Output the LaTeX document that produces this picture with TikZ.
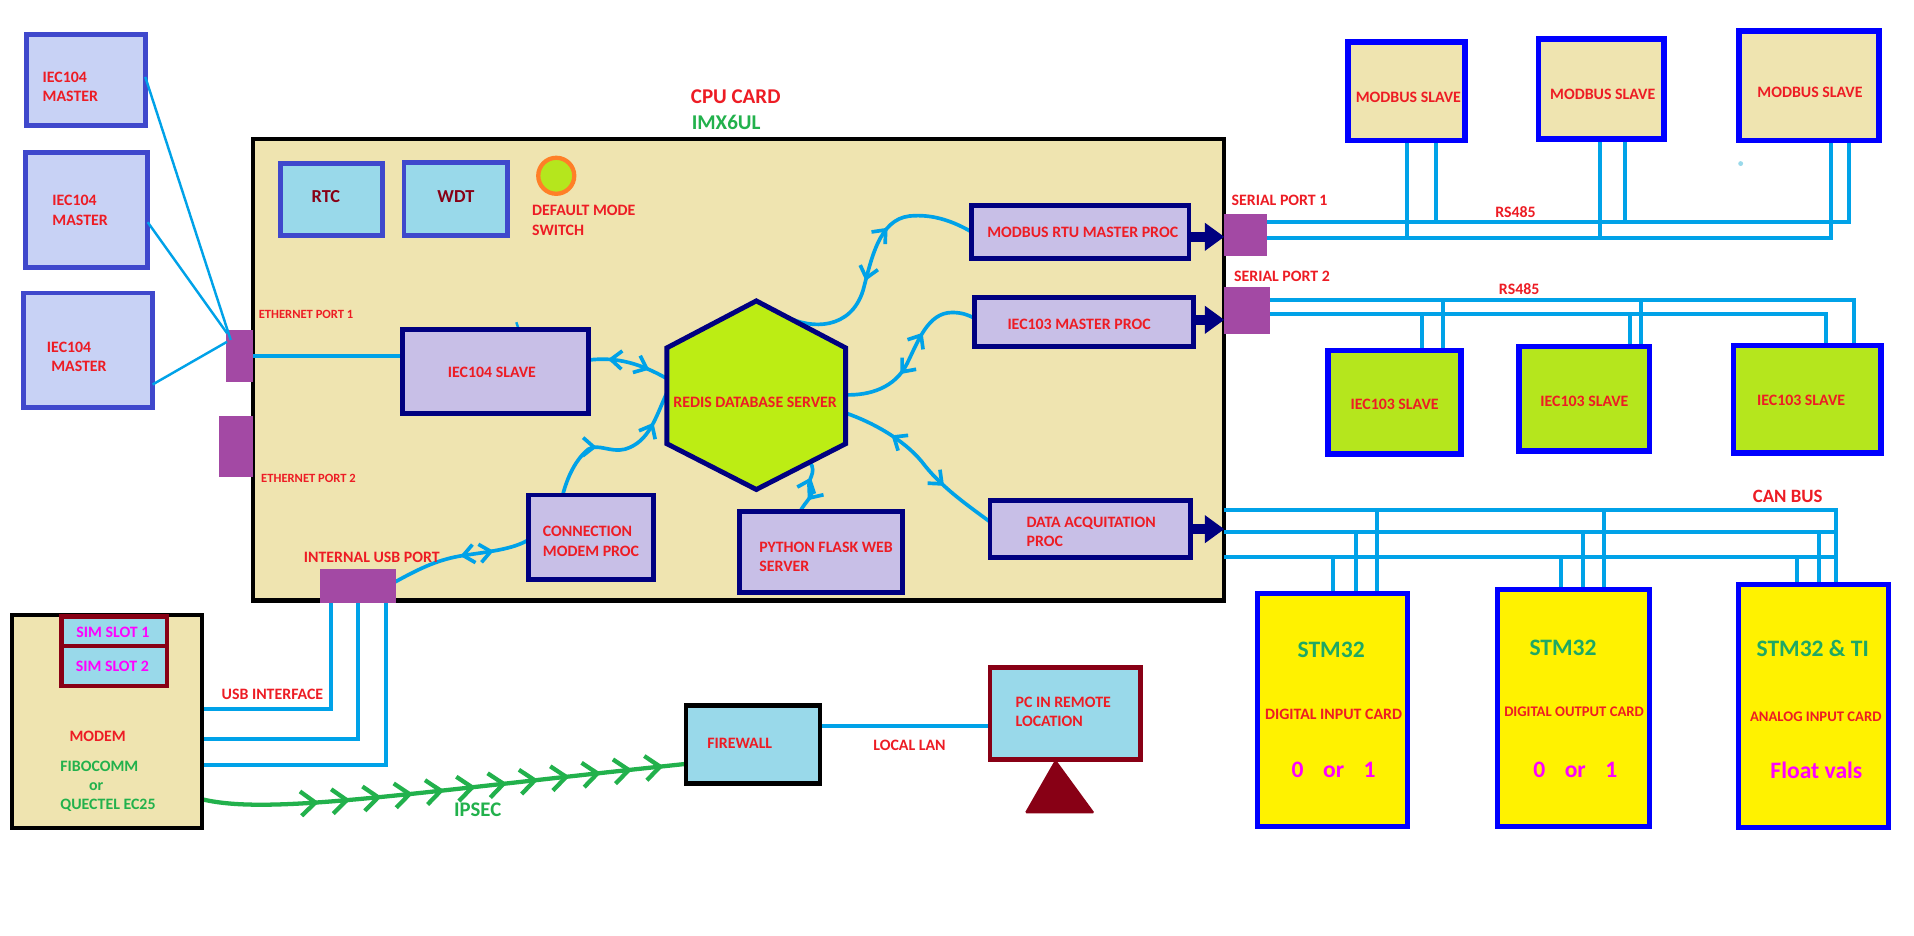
\documentclass[tikz,border=0pt]{standalone}
\usepackage{fontspec}
\setmainfont{Carlito}
\usetikzlibrary{arrows.meta,decorations.markings,fit,calc}
\pgfdeclarelayer{board}
\pgfdeclarelayer{wires}
\pgfsetlayers{board,wires,main}

% Paint-style palette
\definecolor{cardtan}{RGB}{239,228,176}
\definecolor{limefill}{RGB}{181,230,29}
\definecolor{hexfill}{RGB}{188,237,20}
\definecolor{skyfill}{RGB}{153,217,234}
\definecolor{lavfill}{RGB}{200,191,231}
\definecolor{perifill}{RGB}{200,210,245}
\definecolor{indigoline}{RGB}{63,72,204}
\definecolor{navyline}{RGB}{0,0,128}
\definecolor{wine}{RGB}{136,0,21}
\definecolor{labelred}{RGB}{237,28,36}
\definecolor{labelgreen}{RGB}{34,177,76}
\definecolor{stmgreen}{RGB}{30,168,100}
\definecolor{portpurple}{RGB}{163,73,164}
\definecolor{wireblue}{RGB}{0,162,232}
\definecolor{cardyellow}{RGB}{255,242,0}
\definecolor{switchorange}{RGB}{255,127,39}
\definecolor{slaveblue}{RGB}{0,0,255}
\definecolor{labelmagenta}{RGB}{255,0,255}

\newcommand\lblfont{\fontsize{13}{16}\selectfont\bfseries}

\tikzset{
  barbtip/.tip={Straight Barb[length=9pt,width=15pt]},
  ipbarb/.tip={Straight Barb[length=12pt,width=20pt]},
  boardbox/.style={draw=black,fill=cardtan,line width=3.5pt},
  masterbox/.style={draw=indigoline,fill=perifill,line width=4pt},
  chipbox/.style={draw=indigoline,fill=skyfill,line width=4pt},
  procbox/.style={draw=navyline,fill=lavfill,line width=4pt},
  portbox/.style={fill=portpurple},
  mbslavebox/.style={draw=slaveblue,fill=cardtan,line width=4.5pt},
  iecslavebox/.style={draw=slaveblue,fill=limefill,line width=4.5pt},
  iocardbox/.style={draw=slaveblue,fill=cardyellow,line width=4pt},
  modembox/.style={draw=black,fill=cardtan,line width=3.5pt},
  simbox/.style={draw=wine,fill=skyfill,line width=4pt},
  fwbox/.style={draw=black,fill=skyfill,line width=4pt},
  pcbox/.style={draw=wine,fill=skyfill,line width=4pt},
  wire/.style={draw=wireblue,line width=3.3pt},
  thinwire/.style={draw=wireblue,line width=2pt},
  bigarrow/.style={draw=navyline,line width=8pt,-{Triangle[length=16pt,width=22pt]}},
  bilink/.style 2 args={color=wireblue,line width=3pt,line cap=round,
    postaction={decorate,decoration={markings,
      mark=at position #1 with {\arrowreversed{barbtip}},
      mark=at position #2 with {\arrow{barbtip}}}}},
  tunnel/.style={color=labelgreen,line width=3.5pt,line cap=round,
    postaction={decorate,decoration={markings,
      mark=between positions 96pt and 380pt step 25.8pt with {\arrow{ipbarb}}}}},
  redtxt/.style={text=labelred,font=\lblfont,align=left},
  smalltxt/.style={text=labelred,font=\fontsize{10.3}{12}\selectfont\bfseries},
  chiptxt/.style={text=wine,font=\fontsize{15}{18}\selectfont\bfseries},
  titletxt/.style={font=\fontsize{17.2}{20}\selectfont\bfseries},
  greentxt/.style={text=labelgreen,font=\lblfont},
  simtxt/.style={text=labelmagenta,font=\lblfont},
  stmtxt/.style={text=stmgreen,font=\fontsize{19.3}{22}\selectfont\bfseries},
  valtxt/.style={text=labelmagenta,font=\fontsize{19.3}{22}\selectfont\bfseries},
}

\begin{document}
\begin{tikzpicture}[x=1pt,y=-1pt,every node/.style={inner sep=0pt,outer sep=0pt}]
\useasboundingbox (0,0) rectangle (1568,766);

% ---------- CPU card ----------
\begin{pgfonlayer}{board}
  \fill[white] (0,0) rectangle (1568,766);
  \node[boardbox,fit={(207,114) (1003,492)}] (cpu) {};
\end{pgfonlayer}
\node[titletxt,text=labelred,anchor=west] (cputitle) at (566,79) {CPU CARD};
\node[titletxt,text=labelgreen,anchor=west] (soc) at (566.7,100.5) {IMX6UL};

\node[chipbox,fit={(230,134) (313,193)}] (rtc) {};
\node[chiptxt] (rtct) at (267,161) {RTC};
\node[chipbox,fit={(331,133) (416,193)}] (wdt) {};
\node[chiptxt] (wdtt) at (373.5,161) {WDT};
\node[circle,draw=switchorange,fill=limefill,line width=3.5pt,minimum size=29.5pt] (modesw) at (455.7,144) {};
\node[redtxt,anchor=west] (modeswt) at (436,180.3) {DEFAULT MODE\\SWITCH};

\node[portbox,fit={(185,270) (207,313)}] (eth1) {};
\node[portbox,fit={(179,341) (207,391)}] (eth2) {};
\node[smalltxt,anchor=west] (eth1t) at (212,257.5) {ETHERNET PORT 1};
\node[smalltxt,anchor=west] (eth2t) at (214,392) {ETHERNET PORT 2};

\node[procbox,fit={(330,270) (482,339)}] (iecs) {};
\node[redtxt] (iecst) at (403,305) {IEC104 SLAVE};

% Redis hexagon
\draw[draw=navyline,fill=hexfill,line width=4pt,line join=miter]
  (619.6,246.5) coordinate (hT) -- (692.8,285) coordinate (hUR)
  -- (692.8,363.5) coordinate (hLR) -- (619.6,401) coordinate (hB)
  -- (546.3,363.5) coordinate (hLL) -- (546.3,285) coordinate (hUL) -- cycle;
\node[redtxt] (redis) at (618.6,329.6) {REDIS DATABASE SERVER};

\node[procbox,fit={(796,168) (974,212)}] (mrtu) {};
\node[redtxt] (mrtut) at (887,190.3) {MODBUS RTU MASTER PROC};
\node[procbox,fit={(798,243.5) (978,283.5)}] (imp) {};
\node[redtxt] (impt) at (884,265.4) {IEC103 MASTER PROC};
\node[procbox,fit={(811,410) (975.5,457)}] (daq) {};
\node[redtxt,anchor=west] (daqt) at (841,435.6) {DATA ACQUITATION\\PROC};
\node[procbox,fit={(606,419) (739,485.5)}] (py) {};
\node[redtxt,anchor=west] (pyt) at (622,456) {PYTHON FLASK WEB\\SERVER};
\node[procbox,fit={(432.7,405.5) (535.3,474.5)}] (conn) {};
\node[redtxt,anchor=west] (connt) at (444.8,443.3) {CONNECTION\\MODEM PROC};

\node[portbox,fit={(262,466.4) (324,493.7)}] (usbp) {};
\node[redtxt,anchor=west] (usbpt) at (249,456.6) {INTERNAL USB PORT};

\node[portbox,fit={(1003,175) (1038,210)}] (ser1) {};
\node[portbox,fit={(1003,235) (1040,274)}] (ser2) {};
\node[redtxt,anchor=west] (ser1t) at (1009,164) {SERIAL PORT 1};
\node[redtxt,anchor=west] (ser2t) at (1011,226) {SERIAL PORT 2};

% ---------- IEC104 masters ----------
\node[masterbox,fit={(22,28) (119,103)}] (m1) {};
\node[masterbox,fit={(21,125) (121,219)}] (m2) {};
\node[masterbox,fit={(19,240) (125,334)}] (m3) {};
\node[redtxt,anchor=west] (m1t) at (35,71) {IEC104\\MASTER};
\node[redtxt,anchor=west] (m2t) at (43,172.5) {IEC104\\MASTER};
\node[redtxt,anchor=west] (m3t) at (38.5,292.5) {IEC104\\\hspace*{3.5pt}MASTER};

% ---------- field devices ----------
\node[mbslavebox,fit={(1104.5,34.5) (1200,115)}] (s1) {};
\node[mbslavebox,fit={(1260.5,32) (1363,114)}] (s2) {};
\node[mbslavebox,fit={(1424.8,25.5) (1539.3,115.2)}] (s3) {};
\node[redtxt] (s1t) at (1153.8,80) {MODBUS SLAVE};
\node[redtxt] (s2t) at (1313,77) {MODBUS SLAVE};
\node[redtxt] (s3t) at (1482.8,76) {MODBUS SLAVE};
\fill[skyfill] (1426,134) circle (2pt);

\node[iecslavebox,fit={(1088,287) (1197,372)}] (t1) {};
\node[iecslavebox,fit={(1244.3,284) (1351.5,369.4)}] (t2) {};
\node[iecslavebox,fit={(1420,283) (1541,371)}] (t3) {};
\node[redtxt] (t1t) at (1142.5,331) {IEC103 SLAVE};
\node[redtxt] (t2t) at (1298,328.5) {IEC103 SLAVE};
\node[redtxt] (t3t) at (1475.5,327.7) {IEC103 SLAVE};
\node[redtxt,anchor=west] (rs1) at (1225,174) {RS485};
\node[redtxt,anchor=west] (rs2) at (1228,237) {RS485};

\node[iocardbox,fit={(1030,486) (1153,677)}] (k1) {};
\node[iocardbox,fit={(1227,483) (1351,677)}] (k2) {};
\node[iocardbox,fit={(1424,479) (1547,678)}] (k3) {};
\node[text=labelred,font=\fontsize{15.4}{18}\selectfont\bfseries,anchor=west] (canbus) at (1436,407) {CAN BUS};
\node[stmtxt] (k1a) at (1090.5,532) {STM32};
\node[redtxt] (k1b) at (1092.5,585) {DIGITAL INPUT CARD};
\node[valtxt] (k1c) at (1092.5,631) {0\hspace{16pt}or\hspace{16pt}1};
\node[stmtxt] (k2a) at (1280.5,531) {STM32};
\node[text=labelred,font=\fontsize{12}{14}\selectfont\bfseries] (k2b) at (1289.5,583) {DIGITAL OUTPUT CARD};
\node[valtxt] (k2c) at (1290.5,631) {0\hspace{16pt}or\hspace{16pt}1};
\node[stmtxt] (k3a) at (1485,531) {STM32 \& TI};
\node[text=labelred,font=\fontsize{12}{14}\selectfont\bfseries] (k3b) at (1487.5,587) {ANALOG INPUT CARD};
\node[valtxt] (k3c) at (1488,631) {Float vals};

% ---------- modem, firewall, remote PC ----------
\node[modembox,fit={(10,504) (165.5,678.5)}] (modem) {};
\node[simbox,fit={(50.5,505) (136.8,529.2)}] (sim1) {};
\node[simbox,fit={(50.5,529.2) (136.8,562)}] (sim2) {};
\node[simtxt] (sim1t) at (92.5,518) {SIM SLOT 1};
\node[simtxt] (sim2t) at (92,546) {SIM SLOT 2};
\node[redtxt,anchor=west] (modemt) at (57,603) {MODEM};
\node[greentxt,anchor=west] (vend1) at (49.5,628) {FIBOCOMM};
\node[greentxt,anchor=west] (vendor) at (73,644.5) {or};
\node[greentxt,anchor=west] (vend2) at (49.5,659.5) {QUECTEL EC25};
\node[redtxt,anchor=west] (usbift) at (181.6,568.5) {USB INTERFACE};

\node[fwbox,fit={(562,577.6) (671.8,642)}] (fw) {};
\node[redtxt] (fwt) at (606,609) {FIREWALL};
\node[pcbox,fit={(811,547) (934.3,622)}] (pc) {};
\node[redtxt,anchor=west] (pct) at (832,583.3) {PC IN REMOTE\\LOCATION};
\fill[wine,rounded corners=1.5pt] ([xshift=-8pt]pc.south) -- (839.3,666.3) -- (897,666.3) -- cycle;
\node[redtxt,anchor=west] (lant) at (715.5,611) {LOCAL LAN};
\node[text=labelgreen,font=\fontsize{17}{20}\selectfont\bfseries,anchor=west] (ipsect) at (372,663.6) {IPSEC};

% ---------- connectors ----------
\begin{pgfonlayer}{wires}
  % ethernet
  \draw[wire] (eth1.east) -- (iecs.west |- eth1.east);
  \draw[thinwire] ([xshift=17pt,yshift=6pt]iecs.north) -- ([xshift=19pt]iecs.north);

  % process links around the database
  \coordinate (hx1) at ($(hUL)!0.32!(hLL)$);
  \coordinate (hx2) at ($(hT)!0.34!(hUR)$);
  \coordinate (hx3) at ($(hUR)!0.49!(hLR)$);
  \coordinate (hx4) at ($(hUR)!0.68!(hLR)$);
  \coordinate (hx5) at ($(hB)!0.6!(hLR)$);
  \coordinate (hx6) at ($(hUL)!0.47!(hLL)$);
  \draw[bilink={0.24}{0.76}] ([yshift=9.5pt]iecs.east) .. controls (505,292) and (525,298) .. (hx1);
  \draw[bilink={0.41}{0.64}] (hx2) .. controls (665,270) and (697,270) .. (707,238)
     .. controls (714,212) and (720,180) .. (745,177)
     .. controls (765,175) and (782,182) .. (mrtu.west);
  \draw[bilink={0.36}{0.64}] (hx3) .. controls (712,324) and (733,318) .. (743,298)
     .. controls (752,280) and (760,256) .. (780,256)
     .. controls (788,256) and (793,258) .. ([yshift=3pt]imp.west);
  \draw[bilink={0.28}{0.68}] (hx4) .. controls (715,346) and (740,360) .. (755,378)
     .. controls (770,398) and (790,412) .. ([yshift=6pt]daq.west);
  \draw[bilink={0.3}{0.75}] (hx5) .. controls (670,388) and (660,393) .. (664,399)
     .. controls (668,406) and (660,410) .. ([xshift=-17pt]py.north);
  \draw[color=wireblue,line width=3pt,line cap=round,
     postaction={decorate,decoration={markings,
       mark=at position 0.2 with {\arrowreversed{barbtip}},
       mark=at position 0.62 with {\arrowreversed{barbtip}}}}]
     (hx6) .. controls (537,342) and (532,362) .. (512,368)
     .. controls (500,371) and (490,363) .. (482,368)
     .. controls (472,376) and (465,390) .. ([xshift=-23pt]conn.north);
  \draw[bilink={0.5}{0.74}] ([yshift=3.5pt]usbp.east) .. controls (345,465) and (360,458) .. (380,455)
     .. controls (400,452) and (420,450) .. ([yshift=-2.4pt]conn.west);

  % USB interface to the modem
  \draw[wire] ([xshift=-22pt]usbp.south) |- ([yshift=10.25pt]modem.east);
  \draw[wire] ([xshift=0.5pt]usbp.south) |- ([yshift=-14.5pt]modem.east);
  \draw[wire] ([xshift=23pt]usbp.south) |- ([yshift=-35.5pt]modem.east);

  % IPsec tunnel and local LAN
  \draw[tunnel] ([yshift=-63.5pt]modem.east) .. controls (220,668) and (330,650) .. ([yshift=-16pt]fw.west);
  \coordinate (lanA) at ([yshift=15.3pt]fw.east);
  \draw[wire] (lanA) -- (pc.west |- lanA);

  % RS485 bus on serial port 1
  \coordinate (b1u) at ([yshift=-7pt]ser1.north east);
  \coordinate (b1l) at ([yshift=-20pt]ser1.north east);
  \draw[wire] (b1u) -| ([xshift=33pt]s3.south);
  \draw[wire] (b1l) -| ([xshift=18pt]s3.south);
  \coordinate (s1u) at ([xshift=24.5pt]s1.south);
  \coordinate (s2l) at ([xshift=-0.75pt]s2.south);
  \coordinate (s2u) at ([xshift=19.25pt]s2.south);
  \draw[wire] (s1.south) -- (s1.south |- b1l);
  \draw[wire] (s1u) -- (s1u |- b1u);
  \draw[wire] (s2l) -- (s2l |- b1l);
  \draw[wire] (s2u) -- (s2u |- b1u);

  % RS485 bus on serial port 2
  \coordinate (b2u) at ([yshift=-11pt]ser2.north east);
  \coordinate (b2l) at ([yshift=-22.5pt]ser2.north east);
  \draw[wire] (b2u) -| ([xshift=38.5pt]t3.north);
  \draw[wire] (b2l) -| ([xshift=15.5pt]t3.north);
  \coordinate (t1l) at ([xshift=22.5pt]t1.north);
  \coordinate (t1u) at ([xshift=39.5pt]t1.north);
  \coordinate (t2l) at ([xshift=37.1pt]t2.north);
  \coordinate (t2u) at ([xshift=46.1pt]t2.north);
  \draw[wire] (t1l) -- (t1l |- b2l);
  \draw[wire] (t1u) -- (t1u |- b2u);
  \draw[wire] (t2l) -- (t2l |- b2l);
  \draw[wire] (t2u) -- (t2u |- b2u);

  % CAN bus
  \coordinate (c1) at ([yshift=-304pt]cpu.north east);
  \coordinate (c2) at ([yshift=-322pt]cpu.north east);
  \coordinate (c3) at ([yshift=-342pt]cpu.north east);
  \coordinate (k3h) at ([xshift=18.5pt]k3.north);
  \draw[wire] (c1) -| (k3h);
  \draw[wire] (c2) -- (c2 -| k3h);
  \draw[wire] (c3) -- (c3 -| k3h);
  \coordinate (k1l) at ([xshift=0.5pt]k1.north);
  \coordinate (k1m) at ([xshift=19.5pt]k1.north);
  \coordinate (k1h) at ([xshift=36.5pt]k1.north);
  \coordinate (k2l) at ([xshift=-10pt]k2.north);
  \coordinate (k2m) at ([xshift=8pt]k2.north);
  \coordinate (k2h) at ([xshift=25pt]k2.north);
  \coordinate (k3l) at ([xshift=-13pt]k3.north);
  \coordinate (k3m) at ([xshift=4.5pt]k3.north);
  \draw[wire] (k1l) -- (k1l |- c3);
  \draw[wire] (k1m) -- (k1m |- c2);
  \draw[wire] (k1h) -- (k1h |- c1);
  \draw[wire] (k2l) -- (k2l |- c3);
  \draw[wire] (k2m) -- (k2m |- c2);
  \draw[wire] (k2h) -- (k2h |- c1);
  \draw[wire] (k3l) -- (k3l |- c3);
  \draw[wire] (k3m) -- (k3m |- c2);
\end{pgfonlayer}

% IEC104 masters to ethernet port 1
\draw[thinwire] ([yshift=2.5pt]m1.east) -- ([xshift=4pt,yshift=-8.5pt]eth1.north west);
\draw[thinwire] ([yshift=-10pt]m2.east) -- ([xshift=1pt,yshift=-3pt]eth1.north west);
\draw[thinwire] ([yshift=-28pt]m3.east) -- ([xshift=1pt,yshift=-10pt]eth1.north west);

% process outputs to the ports
\coordinate (a1) at ([yshift=-4pt]mrtu.east);
\coordinate (a2) at ([yshift=1.5pt]imp.east);
\draw[bigarrow] (a1) -- (ser1.west |- a1);
\draw[bigarrow] (a2) -- (ser2.west |- a2);
\draw[bigarrow] (daq.east) -- (cpu.east |- daq.east);
\end{tikzpicture}
\end{document}
